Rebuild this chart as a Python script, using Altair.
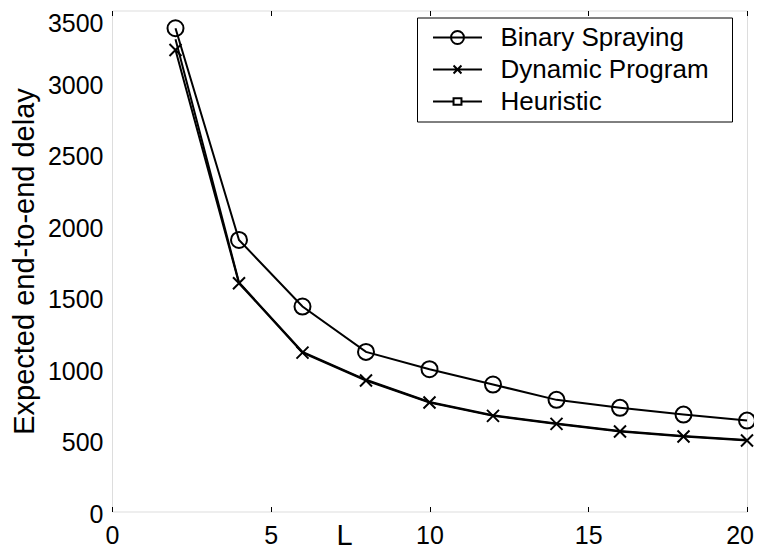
import altair as alt
import pandas as pd

# ---- data ----
L_vals = [2, 4, 6, 8, 10, 12, 14, 16, 18, 20]
binary_spraying = [3376, 1897, 1432, 1115, 994, 887, 780, 724, 677, 635]
dynamic_program = [3224, 1595, 1110, 915, 761, 668, 612, 559, 524, 496]
heuristic = [3300, 1600, 1115, 920, 765, 672, 615, 562, 527, 499]

series_names = ["Binary Spraying", "Dynamic Program", "Heuristic"]
x_ticks = [0, 5, 10, 15, 20]
y_ticks = [0, 500, 1000, 1500, 2000, 2500, 3000, 3500]

rows = []
for name, vals in zip(series_names, [binary_spraying, dynamic_program, heuristic]):
    for l, v in zip(L_vals, vals):
        rows.append({"L": l, "delay": v, "series": name})
df = pd.DataFrame(rows)

FONT = "Liberation Sans"
W, H = 635, 501

x_scale = alt.Scale(domain=[0, 20], nice=False, zero=False)
y_scale = alt.Scale(domain=[0, 3500], nice=False)

# plot markers (open circle, x-cross)
circle_path = "M 0.8 0 A 0.8 0.8 0 1 1 -0.8 0 A 0.8 0.8 0 1 1 0.8 0 Z"
xcross_path = "M -0.6 -0.6 L 0.6 0.6 M -0.6 0.6 L 0.6 -0.6"

# legend symbols: line with marker
leg_circle = "M -2.04 0 L 2.04 0 M 0.54 0 A 0.54 0.54 0 1 1 -0.54 0 A 0.54 0.54 0 1 1 0.54 0 Z"
leg_cross = "M -2.04 0 L 2.04 0 M -0.33 -0.33 L 0.33 0.33 M -0.33 0.33 L 0.33 -0.33"
leg_square = "M -2.04 0 L -0.33 0 M 0.33 0 L 2.04 0 M -0.33 -0.28 L 0.33 -0.28 L 0.33 0.28 L -0.33 0.28 Z"

base = alt.Chart(df)

lines = base.mark_line(color="black", strokeWidth=2).encode(
    x=alt.X("L:Q", scale=x_scale,
            axis=alt.Axis(values=x_ticks, orient="bottom", offset=-5, tickSize=5,
                          tickColor="black", domain=False, grid=False,
                          labelFontSize=25, labelPadding=11.5, labelColor="black",
                          labelFont=FONT, labelFlush=False, format="d",
                          labelAlign=alt.ExprRef("datum.value >= 20 ? 'right' : 'center'"),
                          labelOffset=alt.ExprRef("datum.value >= 20 ? 6.5 : 0"),
                          title="L", titleFontSize=29, titleFont=FONT,
                          titleFontWeight="normal", titleColor="black",
                          titleX=232, titleY=37.5, titleBaseline="alphabetic",
                          titleAlign="center")),
    y=alt.Y("delay:Q", scale=y_scale,
            axis=alt.Axis(values=y_ticks, ticks=False, domain=False, grid=False,
                          labelFontSize=25, labelPadding=9, labelColor="black",
                          labelFont=FONT, format="d", labelFlush=False,
                          labelOffset=alt.ExprRef("datum.value >= 3500 ? 12.5 : 3"),
                          title="Expected end-to-end delay", titleFontSize=29,
                          titleFont=FONT, titleFontWeight="normal", titleColor="black",
                          titleX=-78.7, titleY=H / 2, titleBaseline="alphabetic",
                          titleAlign="center", titleAngle=270)),
    detail="series:N",
)

points = base.transform_filter(alt.datum.series != "Heuristic").mark_point(
    filled=False, color="black", strokeWidth=2, size=400, opacity=1
).encode(
    x=alt.X("L:Q", scale=x_scale,
            axis=alt.Axis(values=x_ticks, orient="top", offset=-5, tickSize=5,
                          tickColor="black", domain=False, grid=False,
                          labels=False, title=None)),
    y=alt.Y("delay:Q", scale=y_scale),
    shape=alt.Shape("series:N",
                    scale=alt.Scale(domain=series_names[:2],
                                    range=[circle_path, xcross_path]),
                    legend=None),
)

legend_layer = base.transform_filter(alt.datum.L < 0).mark_point(
    filled=False, color="black", strokeWidth=2, opacity=1
).encode(
    x=alt.X("L:Q", scale=x_scale, axis=None),
    y=alt.Y("delay:Q", scale=y_scale),
    shape=alt.Shape("series:N",
                    scale=alt.Scale(domain=series_names,
                                    range=[leg_circle, leg_cross, leg_square]),
                    legend=alt.Legend(
                        title="MM", titleOrient="right", titleFontSize=8,
                        titleOpacity=0, titlePadding=2,
                        orient="none", legendX=305, legendY=7,
                        direction="vertical",
                        strokeColor="black", fillColor="white", padding=7,
                        symbolSize=576, symbolStrokeWidth=2,
                        symbolStrokeColor="black", symbolFillColor="transparent",
                        symbolOffset=20.5, labelOffset=30,
                        labelFontSize=26, labelFont=FONT, labelColor="black",
                        rowPadding=6, labelLimit=400)),
)

chart = alt.layer(lines, points, legend_layer).resolve_scale(
    shape="independent"
).resolve_axis(x="independent").properties(
    width=W, height=H,
    autosize=alt.AutoSizeParams(type="none"),
    padding={"left": 104, "top": 2.5, "right": 7, "bottom": 39.5},
).configure_view(stroke="black", strokeWidth=1).configure(
    background="white", font=FONT
)

chart.save("out.html", embed_options={"renderer": "svg", "actions": False})
